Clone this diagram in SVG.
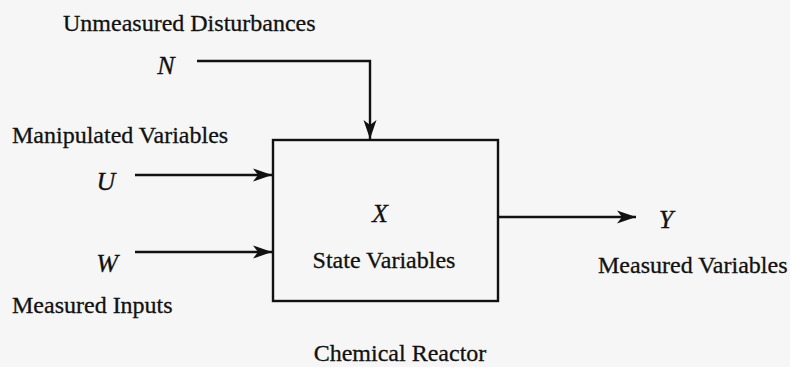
<svg xmlns="http://www.w3.org/2000/svg" width="790" height="367" viewBox="0 0 790 367">
<defs>
<marker id="ah" markerUnits="userSpaceOnUse" markerWidth="20" markerHeight="16" viewBox="0 0 20 16" refX="19" refY="8" orient="auto">
<path d="M0,1.5 L19,8 L0,14.5 L5,8 Z" fill="#111"/>
</marker>
</defs>
<style>
.t{font-family:"Liberation Serif","Times New Roman",serif;font-size:24px;fill:#111;stroke:#111;stroke-width:0.3}
.v{font-family:"Liberation Serif","Times New Roman",serif;font-size:26px;font-style:italic;fill:#111;stroke:#111;stroke-width:0.3}
.ln{stroke:#111;stroke-width:2.4;fill:none}
</style>
<rect width="790" height="367" fill="#f6f6f6"/>
<g id="reactor">
<rect x="273" y="140" width="225" height="161" fill="none" stroke="#111" stroke-width="2.4"/>
<text class="v" x="380" y="222" text-anchor="middle">X</text>
<text class="t" x="384" y="268" text-anchor="middle">State Variables</text>
</g>
<g id="disturbances">
<text class="t" x="63" y="31">Unmeasured Disturbances</text>
<text class="v" x="166" y="74" text-anchor="middle">N</text>
</g>
<g id="manipulated">
<text class="t" x="12" y="143">Manipulated Variables</text>
<text class="v" x="106" y="190" text-anchor="middle">U</text>
</g>
<g id="measured-inputs">
<text class="v" x="107" y="272" text-anchor="middle">W</text>
<text class="t" x="12" y="313">Measured Inputs</text>
</g>
<g id="outputs">
<text class="v" x="666" y="228" text-anchor="middle">Y</text>
<text class="t" x="598" y="273">Measured Variables</text>
</g>
<g id="caption">
<text class="t" x="400" y="361" text-anchor="middle">Chemical Reactor</text>
</g>
<g id="connectors">
<path class="ln" d="M197,61 H370 V139" marker-end="url(#ah)"/>
<path class="ln" d="M135,175 H272" marker-end="url(#ah)"/>
<path class="ln" d="M135,252 H272" marker-end="url(#ah)"/>
<path class="ln" d="M498,217 H636" marker-end="url(#ah)"/>
</g>
</svg>
